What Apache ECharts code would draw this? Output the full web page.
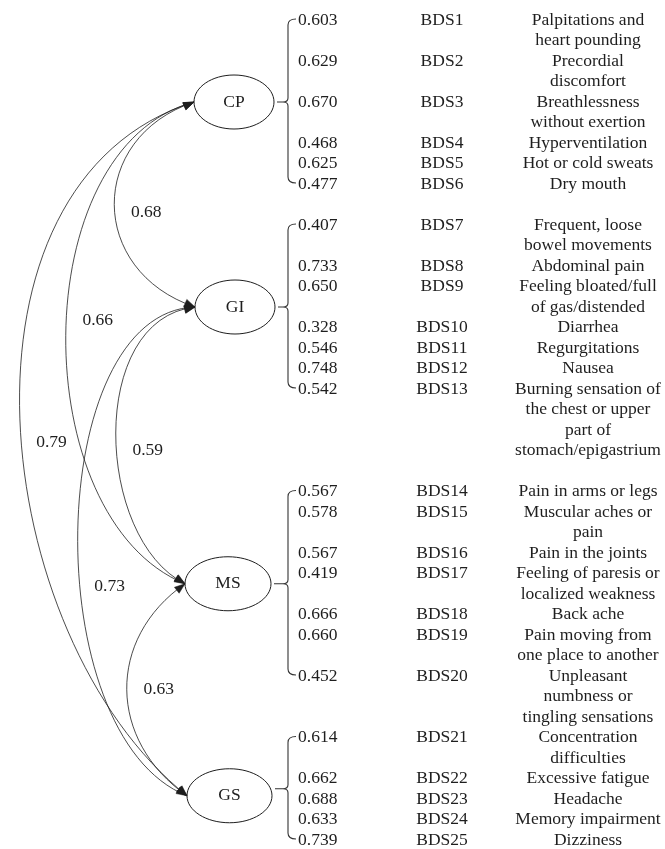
<!DOCTYPE html>
<html><head><meta charset="utf-8">
<script src="https://cdn.jsdelivr.net/npm/echarts@6/dist/echarts.min.js"></script>
<style>html,body{margin:0;padding:0;background:#fff}#c{width:665px;height:849px}</style>
</head><body><div id="c"></div>
<script>
// ---------------- data ----------------
const factors = ['CP', 'GI', 'MS', 'GS'];
const itemCodes = ['BDS1','BDS2','BDS3','BDS4','BDS5','BDS6','BDS7','BDS8','BDS9','BDS10','BDS11','BDS12','BDS13',
  'BDS14','BDS15','BDS16','BDS17','BDS18','BDS19','BDS20','BDS21','BDS22','BDS23','BDS24','BDS25'];
const itemFactor = ['CP','CP','CP','CP','CP','CP','GI','GI','GI','GI','GI','GI','GI',
  'MS','MS','MS','MS','MS','MS','MS','GS','GS','GS','GS','GS'];
const loadings = [0.603,0.629,0.670,0.468,0.625,0.477,
  0.407,0.733,0.650,0.328,0.546,0.748,0.542,
  0.567,0.578,0.567,0.419,0.666,0.660,0.452,
  0.614,0.662,0.688,0.633,0.739];
const descriptions = [
  'Palpitations and\nheart pounding','Precordial\ndiscomfort','Breathlessness\nwithout exertion','Hyperventilation',
  'Hot or cold sweats','Dry mouth',
  'Frequent, loose\nbowel movements','Abdominal pain','Feeling bloated/full\nof gas/distended','Diarrhea',
  'Regurgitations','Nausea','Burning sensation of\nthe chest or upper\npart of\nstomach/epigastrium',
  'Pain in arms or legs','Muscular aches or\npain','Pain in the joints','Feeling of paresis or\nlocalized weakness',
  'Back ache','Pain moving from\none place to another','Unpleasant\nnumbness or\ntingling sensations',
  'Concentration\ndifficulties','Excessive fatigue','Headache','Memory impairment','Dizziness'];
const corrFrom = ['CP','CP','CP','GI','GI','MS'];
const corrTo   = ['GI','MS','GS','MS','GS','GS'];
const correlations = [0.68, 0.66, 0.79, 0.59, 0.73, 0.63];

// ---------------- layout / style ----------------
const W = 665, H = 849, LINE = 20.5, FIRST = 20;
const gapAfter = {CP: 1, GI: 1, MS: 0, GS: 0};
const COL_LOAD = 298, COL_CODE = 442, COL_DESC = 588, BRACKET_X = 288;
const FONT = '17.5px "Liberation Serif", "Times New Roman", serif';
const INK = '#1e1e1e';
const factorLayout = {
  CP: {cx: 234, rx: 40, ry: 27, dy: 0},
  GI: {cx: 235, rx: 40, ry: 27, dy: 0},
  MS: {cx: 228, rx: 43, ry: 27, dy: 0},
  GS: {cx: 229.5, rx: 42.5, ry: 27, dy: 7}
};
// bezier control offsets at each end (d: leftwards, a: towards the other end) and label shift
const arcLayout = [
  {d1: 107, a1: 36, d2: 107, a2: 36, ldy: 8},
  {d1: 170, a1: 45, d2: 160, a2: 65, ldy: -22},
  {d1: 255, a1: 80, d2: 200, a2: 160, ldy: -6},
  {d1: 108, a1: 12, d2: 90,  a2: 45, ldy: 5},
  {d1: 151, a1: 5,  d2: 151, a2: 60, ldy: 35},
  {d1: 79,  a1: 55, d2: 79,  a2: 55, ldy: 0}
];

// rows (line index) for each item, built from description line counts
const rows = [];
(function () {
  let line = 0, prev = itemFactor[0];
  for (let i = 0; i < itemCodes.length; i++) {
    if (itemFactor[i] !== prev) { line += gapAfter[prev]; prev = itemFactor[i]; }
    rows.push(line);
    line += descriptions[i].split('\n').length;
  }
})();
const factorFirst = factors.map(f => rows[itemFactor.indexOf(f)]);
const factorLast = factors.map(f => rows[itemFactor.lastIndexOf(f)]);
const factorMid = factors.map((f, k) => (factorFirst[k] + factorLast[k]) / 2);

function bez(p0, p1, p2, p3, t) {
  const u = 1 - t;
  return [u*u*u*p0[0] + 3*u*u*t*p1[0] + 3*u*t*t*p2[0] + t*t*t*p3[0],
          u*u*u*p0[1] + 3*u*u*t*p1[1] + 3*u*t*t*p2[1] + t*t*t*p3[1]];
}
function arrowHead(tip, from) {
  const dx = tip[0] - from[0], dy = tip[1] - from[1];
  const len = Math.hypot(dx, dy) || 1;
  const ux = dx / len, uy = dy / len;
  const L = 10.5, Wd = 3.8;
  const bx = tip[0] - ux * L, by = tip[1] - uy * L;
  return {type: 'polygon', shape: {points: [tip, [bx - uy * Wd, by + ux * Wd], [bx + uy * Wd, by - ux * Wd]]},
    style: {fill: INK, stroke: INK, lineWidth: 0.5}};
}

const chart = echarts.init(document.getElementById('c'), null, {renderer: 'canvas'});
chart.setOption({
  animation: false,
  backgroundColor: '#fff',
  grid: {left: 0, right: 0, top: 0, bottom: 0},
  xAxis: {type: 'value', min: 0, max: W, show: false},
  yAxis: {type: 'value', min: -FIRST / LINE, max: (H - FIRST) / LINE, inverse: true, show: false},
  series: [
    { // item rows: loading, code, description
      type: 'custom', silent: true, clip: false,
      data: rows.map((r, i) => [COL_LOAD, r, loadings[i]]),
      renderItem(params, api) {
        const i = params.dataIndex;
        const p = api.coord([api.value(0), api.value(1)]);
        const lh = Math.abs(api.size([0, 1])[1]);
        const y = p[1];
        return {type: 'group', children: [
          {type: 'text', x: p[0], y: y, style: {text: api.value(2).toFixed(3), font: FONT, fill: INK, align: 'left', verticalAlign: 'middle'}},
          {type: 'text', x: api.coord([COL_CODE, 0])[0], y: y, style: {text: itemCodes[i], font: FONT, fill: INK, align: 'center', verticalAlign: 'middle'}},
          {type: 'text', x: api.coord([COL_DESC, 0])[0], y: y - lh / 2, style: {text: descriptions[i], font: FONT, fill: INK, align: 'center', verticalAlign: 'top', lineHeight: lh}}
        ]};
      }
    },
    { // factors: ellipse + bracket
      type: 'custom', silent: true, clip: false,
      data: factors.map((f, k) => [factorLayout[f].cx, factorMid[k], factorFirst[k], factorLast[k]]),
      renderItem(params, api) {
        const f = factors[params.dataIndex];
        const L = factorLayout[f];
        const c = api.coord([api.value(0), api.value(1)]);
        const yTop = api.coord([0, api.value(2)])[1] - 1;
        const yBot = api.coord([0, api.value(3)])[1] - 1;
        const yMid = c[1];
        const bx = api.coord([BRACKET_X, 0])[0];
        const ex = c[0] + L.rx;
        const path = `M ${bx + 8} ${yTop} Q ${bx} ${yTop} ${bx} ${yTop + 6} L ${bx} ${yMid - 4} Q ${bx} ${yMid} ${bx - 5} ${yMid}` +
          ` L ${ex + 3} ${yMid} M ${bx - 5} ${yMid} Q ${bx} ${yMid} ${bx} ${yMid + 4} L ${bx} ${yBot - 6} Q ${bx} ${yBot} ${bx + 8} ${yBot}`;
        return {type: 'group', children: [
          {type: 'path', shape: {pathData: path}, style: {fill: 'none', stroke: '#333', lineWidth: 1.1}},
          {type: 'ellipse', shape: {cx: c[0], cy: c[1] + L.dy, rx: L.rx, ry: L.ry}, style: {fill: '#fff', stroke: INK, lineWidth: 1}},
          {type: 'text', x: c[0], y: c[1] + L.dy, style: {text: f, font: FONT, fill: INK, align: 'center', verticalAlign: 'middle'}}
        ]};
      }
    },
    { // correlations: double-headed curved arrows
      type: 'custom', silent: true, clip: false,
      data: correlations.map((r, j) => [factorMid[factors.indexOf(corrFrom[j])], factorMid[factors.indexOf(corrTo[j])], r]),
      renderItem(params, api) {
        const j = params.dataIndex;
        const A = factorLayout[corrFrom[j]], B = factorLayout[corrTo[j]];
        const pa = api.coord([A.cx - A.rx, api.value(0)]); pa[1] += A.dy;
        const pb = api.coord([B.cx - B.rx, api.value(1)]); pb[1] += B.dy;
        const s = arcLayout[j];
        const c1 = [pa[0] - s.d1, pa[1] + s.a1], c2 = [pb[0] - s.d2, pb[1] - s.a2];
        let left = bez(pa, c1, c2, pb, 0);
        for (let t = 0; t <= 1; t += 0.01) { const q = bez(pa, c1, c2, pb, t); if (q[0] < left[0]) left = q; }
        const midY = bez(pa, c1, c2, pb, 0.5)[1];
        return {type: 'group', children: [
          {type: 'bezierCurve', shape: {x1: pa[0], y1: pa[1], x2: pb[0], y2: pb[1], cpx1: c1[0], cpy1: c1[1], cpx2: c2[0], cpy2: c2[1]},
            style: {fill: 'none', stroke: INK, lineWidth: 0.8}},
          arrowHead(pa, bez(pa, c1, c2, pb, 0.07)),
          arrowHead(pb, bez(pa, c1, c2, pb, 0.93)),
          {type: 'text', x: left[0] + 32, y: (pa[1] + pb[1]) / 2 + s.ldy, style: {text: api.value(2).toFixed(2), font: FONT, fill: INK, align: 'center', verticalAlign: 'middle'}}
        ]};
      }
    }
  ]
});
</script></body></html>
